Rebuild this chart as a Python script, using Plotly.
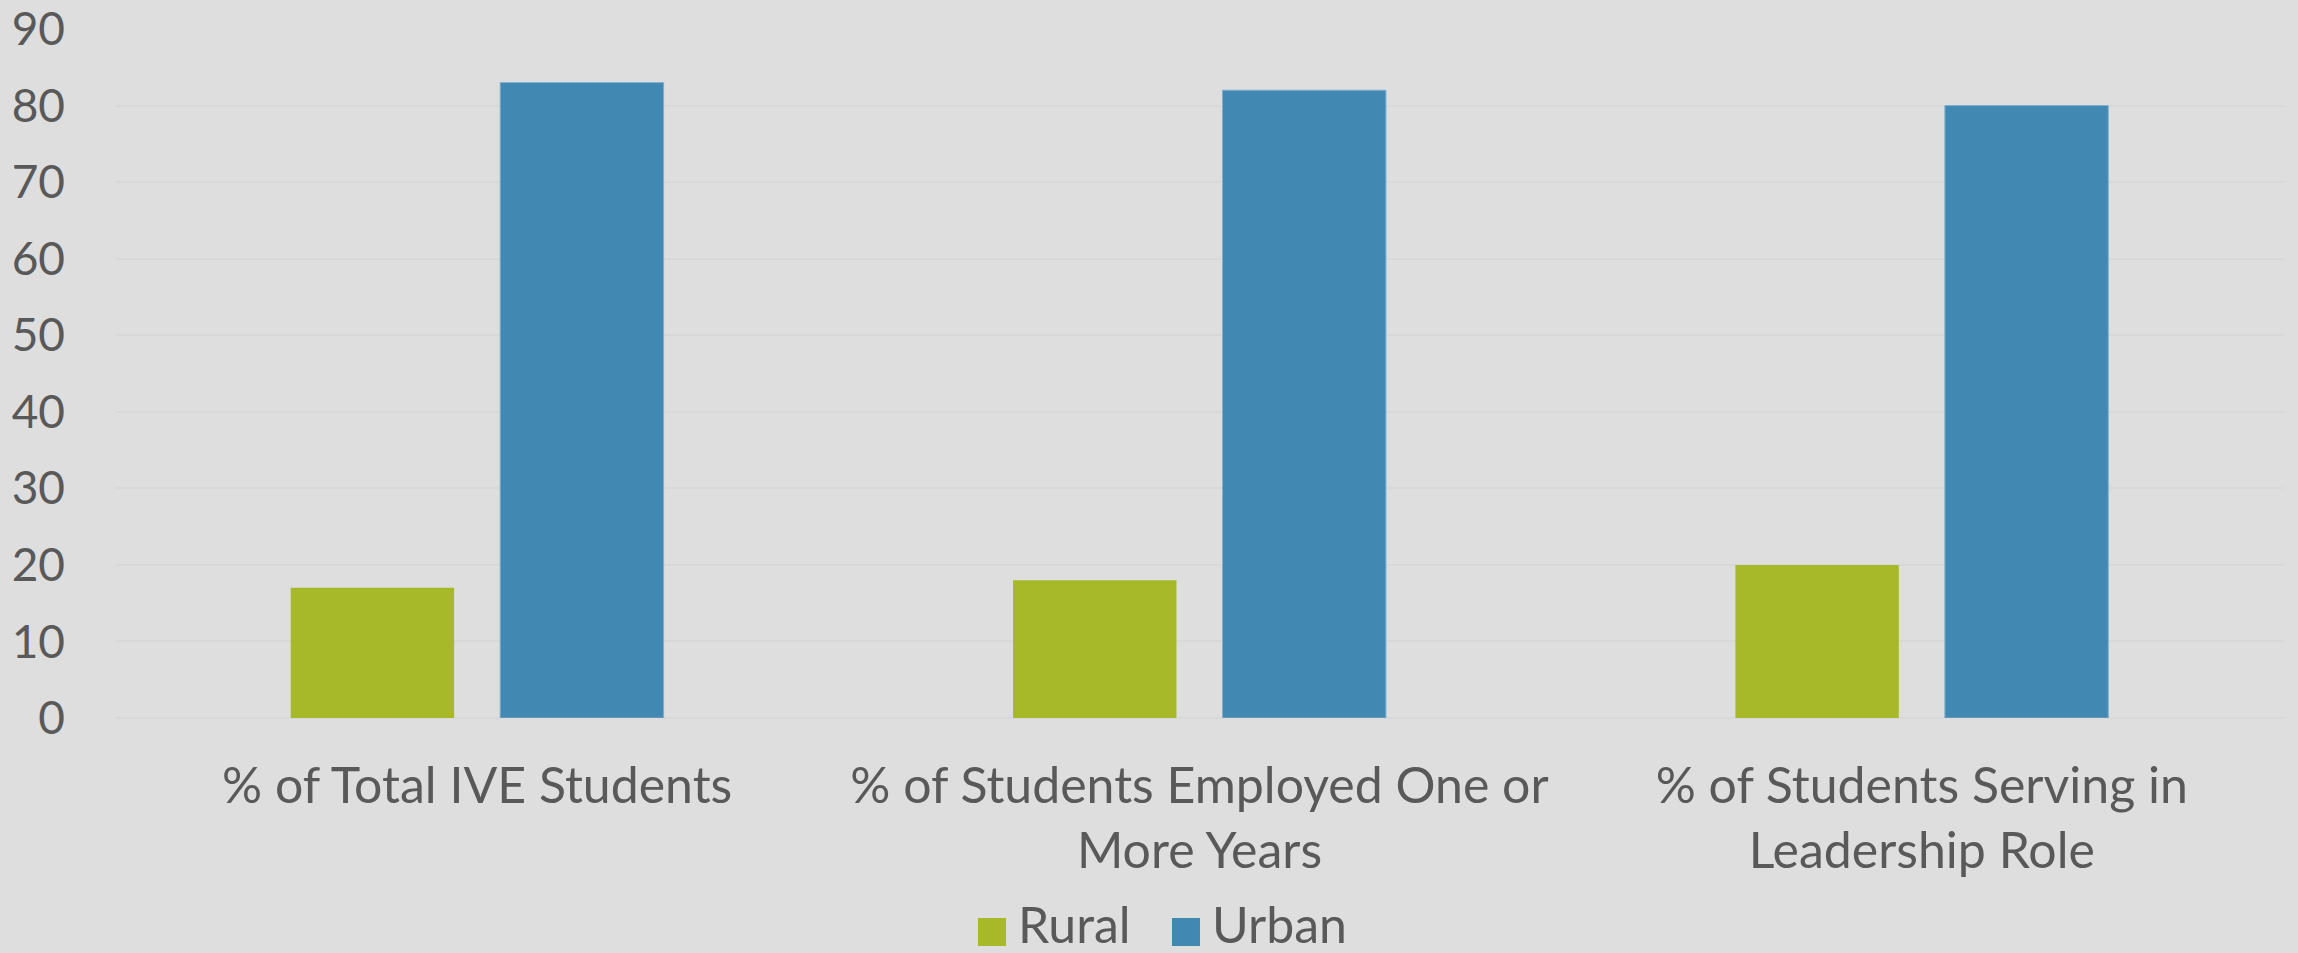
import plotly.graph_objects as go

categories = [
    "% of Total IVE Students",
    "% of Students Employed One or<br>More Years",
    "% of Students Serving in<br>Leadership Role",
]
series_names = ["Rural", "Urban"]
rural = [17, 18, 20]
urban = [83, 82, 80]
y_ticks = [0, 10, 20, 30, 40, 50, 60, 70, 80, 90]

GREEN = "#A7B829"
BLUE = "#4189B3"
TEXT = "#595959"
BG = "#DEDEDE"
FONT = "Lato, 'Open Sans', sans-serif"
FS = 50

W, H = 2298, 953
ML, MR, MT, MB = 116, 15, 29, 235

fig = go.Figure()
fig.add_trace(go.Bar(x=categories, y=rural, name=series_names[0],
                     marker=dict(color=GREEN, line=dict(width=0)), showlegend=False))
fig.add_trace(go.Bar(x=categories, y=urban, name=series_names[1],
                     marker=dict(color=BLUE, line=dict(width=1, color="#7FAFCC")), showlegend=False))

# custom legend (large square swatches like the original)
plot_w = W - ML - MR
plot_h = H - MT - MB


def px_x(px):
    return (px - ML) / plot_w


def px_y(py):
    return (H - MB - py) / plot_h


legend_items = [(series_names[0], GREEN, 978), (series_names[1], BLUE, 1172)]
sw = 28
sw_top, sw_bot = 918, 946
for name, col, x0 in legend_items:
    fig.add_shape(type="rect", xref="paper", yref="paper",
                  x0=px_x(x0), x1=px_x(x0 + sw), y0=px_y(sw_bot), y1=px_y(sw_top),
                  fillcolor=col, line=dict(width=0), layer="above")
    fig.add_annotation(xref="paper", yref="paper", x=px_x(x0 + sw + 10), y=px_y(924),
                       xanchor="left", yanchor="middle", showarrow=False,
                       text=name, font=dict(family=FONT, size=FS, color=TEXT))

fig.update_layout(
    width=W,
    height=H,
    paper_bgcolor=BG,
    plot_bgcolor=BG,
    font=dict(family=FONT, size=FS, color=TEXT),
    barmode="group",
    bargap=0.42,
    bargroupgap=0.22,
    margin=dict(l=ML, r=MR, t=MT, b=MB, autoexpand=False),
    xaxis=dict(
        showgrid=False,
        showline=False,
        zeroline=False,
        ticks="",
        ticklabelstandoff=34,
        automargin=False,
    ),
    yaxis=dict(
        range=[0, 90],
        tickvals=y_ticks,
        tickfont=dict(family=FONT, size=46, color=TEXT),
        showgrid=True,
        gridcolor="#D8D8D8",
        gridwidth=2,
        zeroline=True,
        zerolinecolor="#D8D8D8",
        zerolinewidth=2,
        showline=False,
        ticks="",
        ticklabelstandoff=50,
        ticklabeloverflow="allow",
        automargin=False,
    ),
)

fig.write_html(
    "out.html",
    config={"displayModeBar": False},
    post_script="document.body.style.margin='0';document.body.style.padding='0';"
                "document.documentElement.style.background='#DEDEDE';"
                "document.body.style.background='#DEDEDE';",
)
